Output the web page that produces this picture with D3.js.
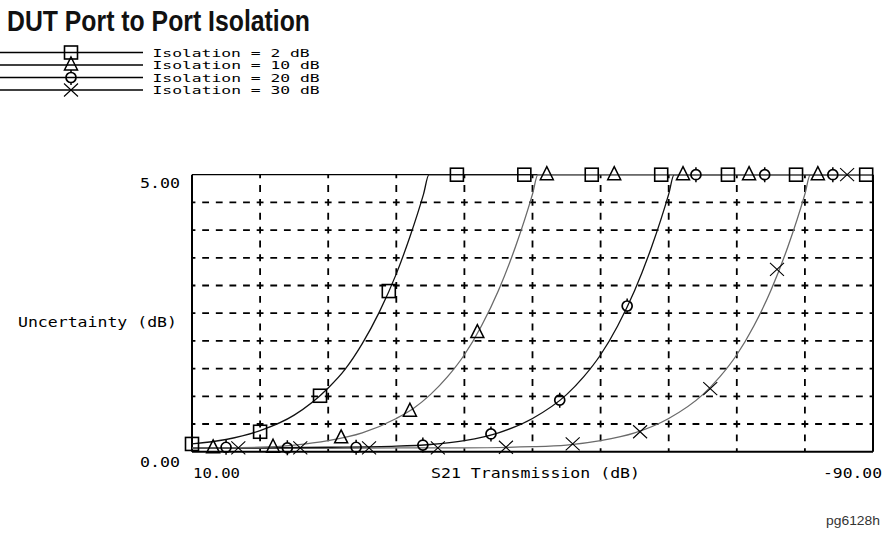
<!DOCTYPE html>
<html>
<head>
<meta charset="utf-8">
<script src="https://cdn.jsdelivr.net/npm/d3@7"></script>
<style>
  html, body { margin: 0; padding: 0; background: #fff; }
  svg { display: block; }
  .mono { font-family: "DejaVu Sans Mono", "Liberation Mono", monospace; font-size: 13.5px; fill: #000; }
  .leg { font-family: "DejaVu Sans Mono", "Liberation Mono", monospace; font-size: 10.5px; fill: #000; }
</style>
</head>
<body>
<svg id="chart" width="883" height="535"></svg>
<script>
// ---------- data ----------
const title = "DUT Port to Port Isolation";
const seriesNames = ["Isolation = 2 dB", "Isolation = 10 dB", "Isolation = 20 dB", "Isolation = 30 dB"];
const markerTypes = ["square", "triangle", "circle", "cross"];
const xAxisTitle = "S21 Transmission (dB)";
const yAxisTitle = "Uncertainty (dB)";
const xTickLabels = ["10.00", "-90.00"];
const yTickLabels = ["0.00", "5.00"];
const footnote = "pg6128h";

// curve samples (S21 dB, uncertainty dB)
const iso2X  = [10, 5, 0, -5, -10, -12.5, -15, -17.5, -20, -22, -24, -24.8, -90];
const iso2Y  = [0.14, 0.22, 0.38, 0.66, 1.15, 1.49, 1.95, 2.52, 3.21, 3.88, 4.65, 5, 5];
const iso10X = [10, 5, 0, -5, -10, -15, -20, -22.5, -25, -27.5, -30, -32.5, -35, -37.5, -40, -40.8, -90];
const iso10Y = [0.07, 0.07, 0.08, 0.12, 0.2, 0.34, 0.6, 0.78, 1.03, 1.35, 1.75, 2.27, 2.91, 3.70, 4.65, 5, 5];
const iso20X = [10, 0, -10, -20, -25, -30, -35, -40, -45, -47.5, -50, -52.5, -55, -57.5, -60, -60.8, -90];
const iso20Y = [0.07, 0.07, 0.08, 0.1, 0.13, 0.2, 0.34, 0.6, 1.03, 1.35, 1.75, 2.27, 2.91, 3.70, 4.65, 5, 5];
const iso30X = [10, 0, -10, -20, -30, -40, -45, -50, -55, -60, -65, -67.5, -70, -72.5, -75, -77.5, -80, -80.8, -90];
const iso30Y = [0.06, 0.06, 0.06, 0.07, 0.07, 0.09, 0.12, 0.2, 0.34, 0.6, 1.03, 1.35, 1.75, 2.27, 2.91, 3.70, 4.65, 5, 5];

// marker positions
const iso2MX  = [10, 0, -8.8, -18.9, -28.9, -38.8, -48.7, -58.9, -68.7, -78.7, -89.0];
const iso2MY  = [0.14, 0.36, 1.01, 2.90, 5, 5, 5, 5, 5, 5, 5];
const iso10MX = [6.9, -1.9, -11.9, -22.0, -31.9, -42.1, -52.0, -62.1, -71.8, -81.9];
const iso10MY = [0.07, 0.08, 0.25, 0.73, 2.15, 5, 5, 5, 5, 5];
const iso20MX = [5.0, -4.0, -14.1, -23.9, -33.9, -44.0, -53.9, -64.0, -74.1, -84.1];
const iso20MY = [0.08, 0.07, 0.08, 0.12, 0.32, 0.93, 2.63, 5, 5, 5];
const iso30MX = [3.2, -5.9, -16.0, -26.1, -36.1, -45.9, -55.8, -66.1, -75.9, -86.2];
const iso30MY = [0.07, 0.07, 0.07, 0.07, 0.08, 0.14, 0.36, 1.14, 3.29, 5];

const curveXs = [iso2X, iso10X, iso20X, iso30X];
const curveYs = [iso2Y, iso10Y, iso20Y, iso30Y];
const markXs = [iso2MX, iso10MX, iso20MX, iso30MX];
const markYs = [iso2MY, iso10MY, iso20MY, iso30MY];
const lineColors = ["#111", "#6a6a6a", "#111", "#6a6a6a"];

// ---------- drawing ----------
const svg = d3.select("#chart");
const L = 192, R = 873, T = 174.7, B = 451.7;
const x = d3.scaleLinear().domain([10, -90]).range([L, R]);
const y = d3.scaleLinear().domain([0, 5]).range([B, T]);

// title
svg.append("text")
  .attr("x", 7).attr("y", 30.5)
  .attr("textLength", 303).attr("lengthAdjust", "spacingAndGlyphs")
  .style("font-family", "'Liberation Sans Narrow', 'Liberation Sans', Arial, sans-serif")
  .style("font-weight", "bold").style("font-size", "29px").style("fill", "#111")
  .text(title);

// marker drawing
function drawMarker(g, type, cx, cy) {
  const m = g.append("g").attr("transform", `translate(${cx},${cy})`)
    .attr("fill", "none").attr("stroke", "#000");
  if (type === "square") {
    m.append("rect").attr("x", -6.5).attr("y", -6.5).attr("width", 13).attr("height", 13).attr("stroke-width", 1.6);
  } else if (type === "triangle") {
    m.append("path").attr("d", "M0,-8 L6.5,5 L-6.5,5 Z").attr("stroke-width", 1.5);
  } else if (type === "circle") {
    m.append("circle").attr("r", 5).attr("stroke-width", 1.7);
    m.append("path").attr("d", "M0,-7.5 L0,-5 M0,5 L0,7.5").attr("stroke-width", 1.5);
  } else {
    m.append("path").attr("d", "M-7,-6.5 L7,6.5 M-7,6.5 L7,-6.5").attr("stroke-width", 1.1);
  }
}

// mono text helper: stretch to the reference width
function monoText(cls, str, px, py, width, anchor) {
  return svg.append("text").attr("class", cls).attr("x", px).attr("y", py)
    .attr("text-anchor", anchor || "start")
    .attr("textLength", width).attr("lengthAdjust", "spacingAndGlyphs").text(str);
}

// legend
const legRowY = [52.5, 65, 77.5, 90];
seriesNames.forEach((name, i) => {
  const g = svg.append("g");
  g.append("line").attr("x1", 0).attr("x2", 143).attr("y1", legRowY[i]).attr("y2", legRowY[i])
    .attr("stroke", "#000").attr("stroke-width", 1.3);
  drawMarker(g, markerTypes[i], 71, legRowY[i]);
  monoText("leg", name, 152.5, legRowY[i] + 4, name.length * 9.95 - 2);
});

// grid (dashed, dashes centred on the intersections)
const gridX = x.ticks(10).filter(v => v < 10 && v > -90);
const gridY = y.ticks(10).filter(v => v > 0 && v < 5);
const grid = svg.append("g").attr("stroke", "#000").attr("stroke-width", 1.8);
grid.selectAll("line.h").data(gridY).enter().append("line")
  .attr("x1", L).attr("x2", R).attr("y1", d => y(d)).attr("y2", d => y(d))
  .attr("stroke-dasharray", "6.81 6.81").attr("stroke-dashoffset", 3.405);
grid.selectAll("line.v").data(gridX).enter().append("line")
  .attr("x1", d => x(d)).attr("x2", d => x(d)).attr("y1", T).attr("y2", B)
  .attr("stroke-dasharray", "6.925 6.925").attr("stroke-dashoffset", 3.46);

// frame
svg.append("line").attr("x1", L).attr("x2", R).attr("y1", T).attr("y2", T).attr("stroke", "#000").attr("stroke-width", 1.3);
svg.append("line").attr("x1", L).attr("x2", L).attr("y1", T).attr("y2", B).attr("stroke", "#000").attr("stroke-width", 2);
svg.append("line").attr("x1", R).attr("x2", R).attr("y1", T).attr("y2", B).attr("stroke", "#000").attr("stroke-width", 2);
svg.append("line").attr("x1", L).attr("x2", R).attr("y1", B).attr("y2", B).attr("stroke", "#000").attr("stroke-width", 2);

// curves
const line = d3.line().x(d => x(d[0])).y(d => y(d[1])).curve(d3.curveMonotoneX);
[3, 2, 0, 1].forEach(i => {
  const pts = curveXs[i].map((v, k) => [v, curveYs[i][k]]);
  svg.append("path").datum(pts).attr("d", line)
    .attr("fill", "none").attr("stroke", lineColors[i]).attr("stroke-width", 1.3);
});

// markers
[0, 1, 2, 3].forEach(i => {
  const g = svg.append("g");
  markXs[i].forEach((v, k) => drawMarker(g, markerTypes[i], x(v), y(markYs[i][k])));
});

// axis labels
monoText("mono", yTickLabels[1], 140, 188, 40);
monoText("mono", yTickLabels[0], 140, 467, 40);
monoText("mono", xTickLabels[0], 193, 478, 47);
monoText("mono", xTickLabels[1], 823, 478, 59);
monoText("mono", xAxisTitle, 431, 478, 209);
monoText("mono", yAxisTitle, 18, 326.5, 159);

// footnote
svg.append("text").attr("x", 826).attr("y", 524.5)
  .attr("textLength", 54).attr("lengthAdjust", "spacingAndGlyphs")
  .style("font-family", "'Liberation Sans', Arial, sans-serif").style("font-size", "12.5px").style("fill", "#333")
  .text(footnote);
</script>
</body>
</html>
